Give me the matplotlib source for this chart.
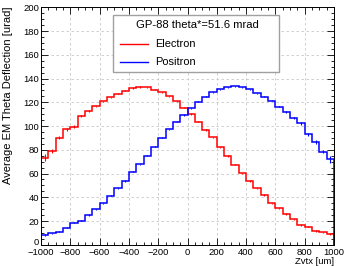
import numpy as np
from matplotlib import pyplot as plt
from matplotlib.patches import Rectangle
from matplotlib.lines import Line2D
from matplotlib.ticker import MultipleLocator
from matplotlib.transforms import ScaledTranslation

plt.rcParams['font.family'] = ['Liberation Sans', 'DejaVu Sans']

# histogram binning (40 bins, -1000..1000 um)
bin_lo = -1000
bin_hi = 1000
n_bins = 40

# average EM theta deflection per bin [urad]
electron = [73.5, 79, 90.2, 97.2, 99.5, 108.7, 112.4, 116.6, 120.8, 124.2,
            127.3, 129.8, 132, 132.9, 132.6, 130.6, 128.4, 125, 120.8, 115.5,
            110.1, 103.7, 96.7, 90.5, 82.1, 74.8, 67.5, 60.2, 53.7, 47.5,
            41.9, 34.9, 30.7, 25.9, 21.5, 16.7, 15.3, 11.6, 10.5, 8.8]
positron = [8.3, 9.7, 11.1, 14.4, 18.6, 20.3, 25.1, 29.9, 34.9, 41.4,
            47.5, 53.7, 61.6, 67.8, 75.2, 82.7, 90.3, 97.2, 103.7, 109.3,
            115, 120.5, 124.7, 128.4, 130.9, 132.6, 133.5, 132.6, 130.9, 127.5,
            124.7, 121.4, 116.3, 111.6, 107, 102.3, 93, 86.8, 78.4, 72]
electron_err = [3, 1.5, 1.5, 1, 1, 0.8, 0.8, 0.6, 0.6, 0.5,
                0.5, 0.5, 0.5, 0.5, 0.5, 0.5, 0.5, 0.5, 0.5, 0.5,
                0.5, 0.5, 0.5, 0.5, 0.5, 0.5, 0.5, 0.5, 0.5, 0.5,
                0.5, 0.5, 0.5, 0.5, 0.5, 0.5, 0.5, 0.6, 0.6, 0.8]
positron_err = [0.8, 0.6, 0.6, 0.5, 0.5, 0.5, 0.5, 0.5, 0.5, 0.5,
                0.5, 0.5, 0.5, 0.5, 0.5, 0.5, 0.5, 0.5, 0.5, 0.5,
                0.5, 0.5, 0.5, 0.5, 0.5, 0.5, 0.5, 0.5, 0.5, 0.5,
                0.5, 0.6, 0.6, 0.8, 0.8, 1, 1, 1.5, 1.5, 3]

x_ticks = [-1000, -800, -600, -400, -200, 0, 200, 400, 600, 800, 1000]
y_ticks = [0, 20, 40, 60, 80, 100, 120, 140, 160, 180, 200]

legend_title = 'GP-88 theta*=51.6 mrad'
labels = ['Electron', 'Positron']
colors = ['#ff0000', '#0000ff']

edges = np.linspace(bin_lo, bin_hi, n_bins + 1)
centers = 0.5 * (edges[:-1] + edges[1:])

fig = plt.figure(figsize=(3.44, 2.66), dpi=100)
ax = fig.add_axes([41 / 344, 21.2 / 266, 293 / 344, 237.5 / 266])

for vals, errs, col in zip([electron, positron], [electron_err, positron_err], colors):
    ax.stairs(vals, edges, color=col, lw=1.1)
    ax.errorbar(centers, vals, yerr=errs, fmt='none', ecolor=col, elinewidth=0.8, capsize=0)

ax.set_xlim(bin_lo, bin_hi)
ax.set_ylim(0, 200)
ax.set_xticks(x_ticks)
ax.set_xticklabels([('%d' % t).replace('-', '\u2212') for t in x_ticks])
ax.set_yticks(y_ticks)
ax.set_yticklabels(['%d' % t for t in y_ticks])
ax.xaxis.set_minor_locator(MultipleLocator(50))
ax.yaxis.set_minor_locator(MultipleLocator(5))
ax.tick_params(which='both', direction='in', top=True, right=True, labelsize=6.8, width=0.6)
ax.tick_params(axis='y', pad=1.5)
ax.tick_params(axis='x', pad=2.2)
ax.tick_params(which='major', length=5)
ax.tick_params(which='minor', length=2.5)
ax.set_xlim(bin_lo, bin_hi)
ax.set_ylim(0, 200)
ax.grid(True, which='major', color='#c8c8c8', ls=(0, (3, 3)), lw=0.6)
ax.set_axisbelow(True)
for s in ax.spines.values():
    s.set_linewidth(0.7)

# nudge the "0" y label up a little so it clears "-1000"
zero_lab = ax.yaxis.get_major_ticks()[0].label1
zero_lab.set_transform(zero_lab.get_transform() + ScaledTranslation(0, 3.5 / 100, fig.dpi_scale_trans))

fig.text(334 / 344, 0.5 / 266, 'Zvtx [um]', ha='right', va='bottom', fontsize=6.8)
fig.text(8 / 344, 1 - 7 / 266, 'Average EM Theta Deflection [urad]', rotation=90,
         ha='center', va='top', fontsize=8.0)

# legend box
fig.patches.append(Rectangle((113 / 344, 1 - 71.5 / 266), 166 / 344, 56.5 / 266,
                             transform=fig.transFigure, facecolor='white',
                             edgecolor='#a0a0a0', lw=1.0, zorder=5))
fig.text(197 / 344, 1 - 25 / 266, legend_title, ha='center', va='center', fontsize=8.1, zorder=6)
for i, (lab, col) in enumerate(zip(labels, colors)):
    yy = 1 - (44 + 18 * i) / 266
    fig.lines.append(Line2D([120 / 344, 148 / 344], [yy, yy], transform=fig.transFigure,
                            color=col, lw=1.0, zorder=6))
    fig.text(155 / 344, yy, lab, ha='left', va='center', fontsize=7.9, zorder=6)

fig.savefig('out.png', dpi=100)
